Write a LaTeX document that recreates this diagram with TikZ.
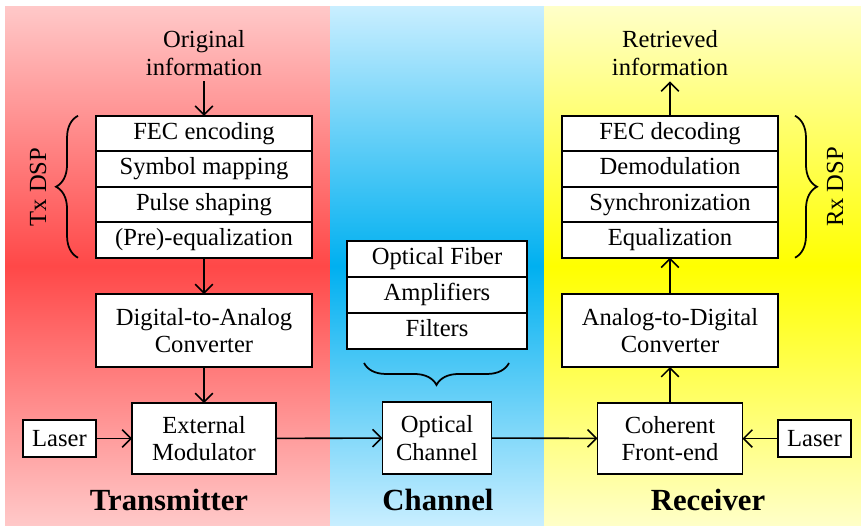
\documentclass[tikz,border=0pt]{standalone}
\usepackage{fontspec}
\setmainfont{Liberation Serif}
\usetikzlibrary{positioning,arrows.meta,decorations.pathreplacing}

\definecolor{txlight}{RGB}{255,200,200}
\definecolor{txdeep}{RGB}{255,72,72}
\definecolor{chlight}{RGB}{200,238,255}
\definecolor{chdeep}{RGB}{0,176,240}
\definecolor{rxlight}{RGB}{255,255,200}
\definecolor{rxdeep}{RGB}{255,255,0}

\begin{document}
\begin{tikzpicture}[x=0.02cm, y=0.02cm,
    every node/.style={font=\fontsize{14}{15.5}\selectfont},
    block/.style={draw, fill=white, line width=0.9pt, align=center, inner sep=0pt, outer sep=0pt},
    dsprow/.style={block, minimum width=4.32cm, minimum height=0.71cm, text height=1.75ex, text depth=0.35ex},
    chrow/.style={block, minimum width=3.6cm, minimum height=0.72cm, text height=1.75ex, text depth=0.35ex},
    flow/.style={line width=0.9pt, -{Straight Barb[length=5pt,width=10pt]}},
    bracket/.style={line width=1pt, decorate, decoration={brace, amplitude=0.44cm}},
    title/.style={font=\fontsize{17.5}{20}\selectfont\bfseries}]
    \useasboundingbox (0,0) rectangle (861,525);

    % three stages in the background
    \shade[top color=txlight, bottom color=txlight, middle color=txdeep] (5,0) rectangle (330,518);
    \shade[top color=chlight, bottom color=chlight, middle color=chdeep] (330,0) rectangle (544,518);
    \shade[top color=rxlight, bottom color=rxlight, middle color=rxdeep] (544,0) rectangle (861,518);

    % transmitter
    \node[align=center] (orig) at (204,472) {Original\\information};
    \node[dsprow] (fec) at (204,391.5) {FEC encoding};
    \node[dsprow, below=0pt of fec] (map) {Symbol mapping};
    \node[dsprow, below=0pt of map] (pulse) {Pulse shaping};
    \node[dsprow, below=0pt of pulse] (preeq) {(Pre)-equalization};
    \node[block, minimum width=4.32cm, minimum height=1.46cm] (dac) at (204,194.5) {Digital-to-Analog\\Converter};
    \node[block, minimum width=2.88cm, minimum height=1.42cm] (mod) at (204,86.5) {External\\Modulator};
    \node[block, minimum width=1.46cm, minimum height=0.74cm] (txlaser) at (59.5,86.5) {Laser};
    \node[rotate=90] (txdsp) at (38,338) {Tx DSP};
    \node[title] (txname) at (169,25) {Transmitter};

    \draw[bracket] ([xshift=-0.36cm]preeq.south west) -- ([xshift=-0.36cm]fec.north west);
    \draw[flow] (orig) -- (fec);
    \draw[flow] (preeq) -- (dac);
    \draw[flow] (dac) -- (mod);
    \draw[flow] (txlaser) -- (mod);

    % channel
    \node[chrow] (fiber) at (437,266) {Optical Fiber};
    \node[chrow, below=0pt of fiber] (amp) {Amplifiers};
    \node[chrow, below=0pt of amp] (filt) {Filters};
    \node[block, minimum width=2.18cm, minimum height=1.44cm] (optch) at (437,87) {Optical\\Channel};
    \node[title] (chname) at (438,25) {Channel};

    \draw[bracket] ([shift={(-0.36cm,-0.28cm)}]filt.south east) -- ([shift={(0.34cm,-0.28cm)}]filt.south west);
    \draw[flow] (mod) -- (optch);

    % receiver
    \node[align=center] (retr) at (670,472) {Retrieved\\information};
    \node[dsprow] (dec) at (670,391.5) {FEC decoding};
    \node[dsprow, below=0pt of dec] (demod) {Demodulation};
    \node[dsprow, below=0pt of demod] (sync) {Synchronization};
    \node[dsprow, below=0pt of sync] (eq) {Equalization};
    \node[block, minimum width=4.32cm, minimum height=1.46cm] (adc) at (670,194.5) {Analog-to-Digital\\Converter};
    \node[block, minimum width=2.9cm, minimum height=1.42cm] (coh) at (670,86.5) {Coherent\\Front-end};
    \node[block, minimum width=1.46cm, minimum height=0.74cm] (rxlaser) at (814.5,86.5) {Laser};
    \node[rotate=90] (rxdsp) at (835,338) {Rx DSP};
    \node[title] (rxname) at (708,25) {Receiver};

    \draw[bracket] ([xshift=0.34cm]dec.north east) -- ([xshift=0.34cm]eq.south east);
    \draw[flow] (optch) -- (coh);
    \draw[flow] (rxlaser) -- (coh);
    \draw[flow] (coh) -- (adc);
    \draw[flow] (adc) -- (eq);
    \draw[flow] (dec) -- (retr);
\end{tikzpicture}
\end{document}
